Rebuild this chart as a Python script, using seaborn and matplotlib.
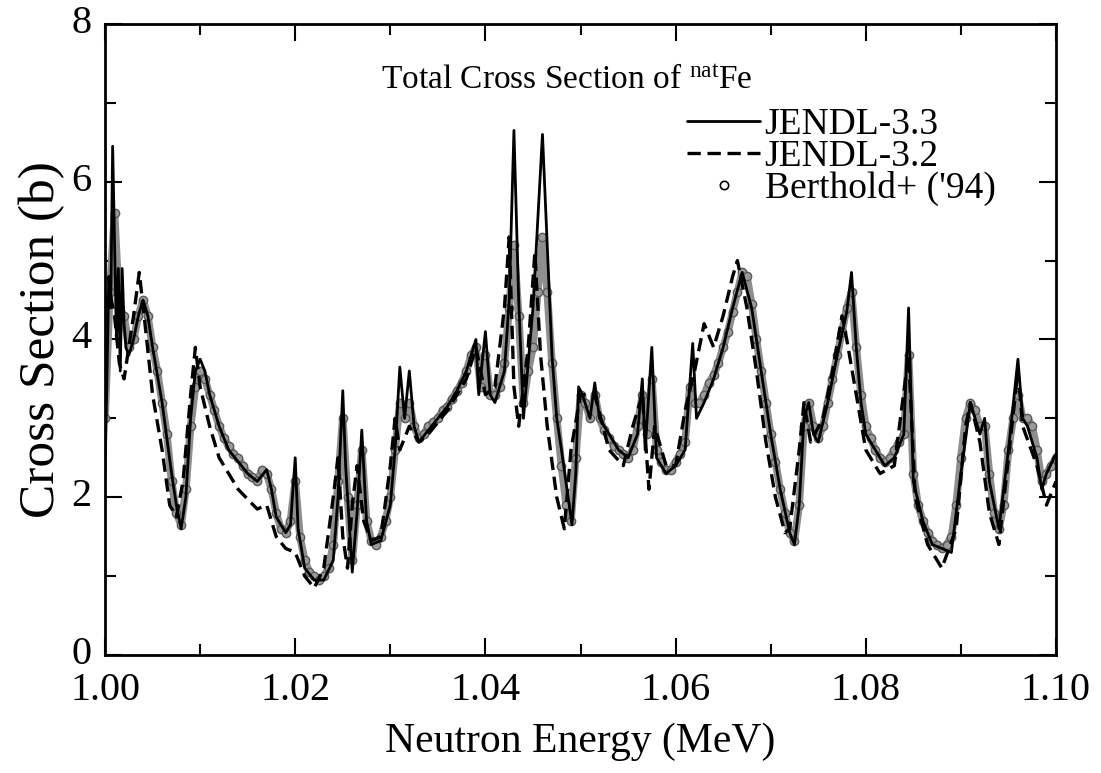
import numpy as np
import pandas as pd
import matplotlib
matplotlib.use("Agg")
import matplotlib.pyplot as plt
from matplotlib.lines import Line2D
from matplotlib.ticker import MultipleLocator
from matplotlib.transforms import ScaledTranslation
import seaborn as sns

# ---- JENDL-3.3 evaluated total cross section (MeV, barn) ----
jendl33_e = [1.0000, 1.0002, 1.0004, 1.0006, 1.0008, 1.0010, 1.0012, 1.0014, 1.0016, 1.0018,
             1.0020, 1.0022, 1.0025, 1.0030, 1.0035, 1.0040, 1.0045, 1.0050, 1.0060, 1.0070,
             1.0075, 1.0080, 1.0085, 1.0090, 1.0095, 1.0100, 1.0105, 1.0110, 1.0120, 1.0130,
             1.0140, 1.0150, 1.0160, 1.0170, 1.0175, 1.0180, 1.0190, 1.0195, 1.0200, 1.0203,
             1.0210, 1.0220, 1.0230, 1.0240, 1.0245, 1.0250, 1.0253, 1.0260, 1.0265, 1.0270,
             1.0275, 1.0280, 1.0290, 1.0300, 1.0305, 1.0310, 1.0315, 1.0320, 1.0325, 1.0330,
             1.0340, 1.0350, 1.0360, 1.0370, 1.0380, 1.0390, 1.0393, 1.0400, 1.0405, 1.0410,
             1.0420, 1.0425, 1.0430, 1.0435, 1.0440, 1.0450, 1.0460, 1.0465, 1.0470, 1.0475,
             1.0480, 1.0487, 1.0491, 1.0495, 1.0498, 1.0502, 1.0510, 1.0515, 1.0520, 1.0530,
             1.0540, 1.0550, 1.0560, 1.0565, 1.0568, 1.0575, 1.0580, 1.0590, 1.0600, 1.0610,
             1.0618, 1.0622, 1.0630, 1.0640, 1.0650, 1.0660, 1.0670, 1.0680, 1.0690, 1.0700,
             1.0710, 1.0720, 1.0725, 1.0730, 1.0735, 1.0740, 1.0745, 1.0750, 1.0760, 1.0770,
             1.0780, 1.0785, 1.0790, 1.0795, 1.0800, 1.0810, 1.0820, 1.0830, 1.0840, 1.0845,
             1.0850, 1.0860, 1.0870, 1.0880, 1.0890, 1.0900, 1.0910, 1.0920, 1.0925, 1.0930,
             1.0940, 1.0950, 1.0960, 1.0965, 1.0970, 1.0980, 1.0985, 1.0990, 1.1000]
jendl33_sig = [2.3, 3.5, 4.8, 4.4, 6.45, 5.2, 4.0, 4.9, 3.6, 4.9,
               4.2, 3.9, 3.8, 4.0, 4.3, 4.5, 4.3, 3.9, 3.2, 2.3,
               1.9, 1.6, 2.0, 3.0, 3.6, 3.75, 3.6, 3.3, 2.9, 2.6,
               2.45, 2.3, 2.2, 2.35, 2.1, 1.75, 1.55, 1.65, 2.5, 1.6,
               1.1, 0.95, 0.95, 1.2, 2.0, 3.35, 2.4, 1.05, 1.8, 2.85,
               1.7, 1.4, 1.45, 1.9, 2.6, 3.65, 3.0, 3.6, 2.9, 2.7,
               2.85, 3.0, 3.15, 3.35, 3.6, 4.0, 3.3, 4.1, 3.3, 3.2,
               3.6, 4.5, 6.65, 4.5, 3.0, 4.4, 6.6, 5.2, 3.8, 3.0,
               2.6, 2.0, 1.65, 2.3, 3.4, 3.3, 3.0, 3.45, 3.0, 2.8,
               2.6, 2.5, 2.8, 3.5, 2.6, 3.9, 2.5, 2.3, 2.4, 2.6,
               3.95, 3.0, 3.2, 3.5, 3.9, 4.4, 4.85, 4.4, 3.6, 2.8,
               2.1, 1.55, 1.4, 1.9, 3.0, 3.2, 2.8, 2.7, 3.2, 3.8,
               4.35, 4.85, 3.9, 3.2, 2.8, 2.6, 2.4, 2.5, 2.8, 4.4,
               2.2, 1.7, 1.4, 1.35, 1.3, 2.3, 3.2, 2.8, 3.0, 2.2,
               1.6, 2.6, 3.75, 3.0, 2.9, 2.5, 2.1, 2.3, 2.55]

# ---- JENDL-3.2 evaluated total cross section ----
jendl32_e = [1.0000, 1.0005, 1.0010, 1.0015, 1.0020, 1.0030, 1.0036, 1.0042, 1.0050, 1.0060,
             1.0068, 1.0075, 1.0082, 1.0090, 1.0095, 1.0100, 1.0110, 1.0120, 1.0140, 1.0160,
             1.0170, 1.0180, 1.0190, 1.0200, 1.0210, 1.0220, 1.0230, 1.0240, 1.0245, 1.0250,
             1.0255, 1.0260, 1.0265, 1.0272, 1.0280, 1.0290, 1.0300, 1.0305, 1.0310, 1.0320,
             1.0330, 1.0340, 1.0360, 1.0380, 1.0390, 1.0400, 1.0410, 1.0420, 1.0425, 1.0430,
             1.0435, 1.0445, 1.0452, 1.0458, 1.0465, 1.0475, 1.0483, 1.0490, 1.0500, 1.0515,
             1.0530, 1.0545, 1.0555, 1.0565, 1.0572, 1.0578, 1.0590, 1.0600, 1.0610, 1.0620,
             1.0630, 1.0640, 1.0650, 1.0660, 1.0665, 1.0675, 1.0685, 1.0695, 1.0705, 1.0715,
             1.0720, 1.0730, 1.0735, 1.0742, 1.0755, 1.0765, 1.0775, 1.0780, 1.0790, 1.0800,
             1.0815, 1.0830, 1.0845, 1.0852, 1.0865, 1.0880, 1.0895, 1.0905, 1.0910, 1.0920,
             1.0930, 1.0940, 1.0950, 1.0960, 1.0965, 1.0980, 1.0990, 1.1000]
jendl32_sig = [4.4, 4.6, 4.3, 3.7, 3.5, 4.3, 4.85, 4.2, 3.3, 2.6,
               1.9, 1.75, 2.2, 3.3, 3.9, 3.4, 2.9, 2.5, 2.1, 1.85,
               1.9, 1.5, 1.35, 1.3, 1.0, 0.85, 1.1, 2.0, 2.5, 1.5,
               1.1, 1.9, 2.4, 1.7, 1.45, 1.5, 2.4, 3.0, 2.6, 2.9,
               2.7, 2.8, 3.1, 3.5, 3.9, 3.3, 3.4, 4.4, 5.3, 3.4,
               2.9, 3.9, 5.1, 3.8, 2.9, 2.0, 1.6, 2.6, 3.3, 3.3,
               2.6, 2.4, 2.9, 3.3, 2.1, 2.9, 2.4, 2.4, 3.1, 3.6,
               4.2, 3.9, 4.3, 4.8, 5.0, 4.4, 3.6, 2.7, 2.0, 1.55,
               1.6, 2.6, 3.2, 2.7, 3.0, 3.6, 4.3, 4.0, 3.3, 2.6,
               2.3, 2.4, 3.8, 2.0, 1.4, 1.1, 1.6, 2.9, 3.2, 2.7,
               1.8, 1.4, 2.5, 3.6, 2.9, 2.4, 1.9, 2.2]

# ---- Berthold et al. ('94) measurement, 0.5 keV spacing from 1.000 MeV ----
berthold_e0 = 1.0000
berthold_step = 0.0005
berthold_sig = [3.0, 4.6, 5.6, 4.4, 4.3, 3.9, 4.0, 4.3, 4.5, 4.3,
                3.9, 3.6, 3.2, 2.8, 2.2, 1.8, 1.65, 2.1, 2.9, 3.4,
                3.6, 3.5, 3.3, 3.1, 2.9, 2.75, 2.65, 2.55, 2.5, 2.4,
                2.3, 2.25, 2.2, 2.35, 2.3, 2.1, 1.8, 1.6, 1.55, 1.7,
                2.2, 1.5, 1.2, 1.05, 1.0, 0.95, 1.0, 1.1, 1.4, 2.2,
                3.0, 2.0, 1.2, 1.9, 2.6, 1.7, 1.45, 1.4, 1.5, 1.7,
                2.0, 2.6, 3.2, 3.0, 3.2, 2.9, 2.75, 2.8, 2.9, 2.95,
                3.0, 3.1, 3.15, 3.25, 3.35, 3.45, 3.6, 3.8, 3.9, 3.4,
                3.8, 3.3, 3.3, 3.4, 3.7, 4.4, 5.2, 4.3, 3.2, 3.6,
                3.9, 4.6, 5.3, 4.6, 3.7, 3.0, 2.4, 1.9, 1.7, 2.5,
                3.3, 3.2, 3.0, 3.3, 3.0, 2.85, 2.75, 2.65, 2.6, 2.55,
                2.5, 2.6, 2.9, 3.3, 2.8, 3.5, 2.6, 2.45, 2.35, 2.35,
                2.45, 2.55, 2.7, 3.4, 3.2, 3.2, 3.3, 3.45, 3.55, 3.7,
                3.9, 4.1, 4.35, 4.6, 4.85, 4.8, 4.45, 4.0, 3.6, 3.2,
                2.8, 2.45, 2.1, 1.8, 1.55, 1.45, 1.9, 2.9, 3.2, 2.9,
                2.75, 2.9, 3.2, 3.5, 3.8, 4.1, 4.4, 4.6, 3.9, 3.3,
                2.9, 2.75, 2.6, 2.5, 2.45, 2.5, 2.6, 2.7, 2.8, 3.8,
                2.3, 1.9, 1.7, 1.55, 1.45, 1.4, 1.35, 1.4, 1.5, 1.9,
                2.5, 3.0, 3.2, 3.1, 2.9, 2.9, 2.3, 1.8, 1.6, 1.9,
                2.6, 3.0, 3.3, 3.0, 3.0, 2.9, 2.6, 2.2, 2.3, 2.4,
                2.5]

x_ticks = [1.00, 1.02, 1.04, 1.06, 1.08, 1.10]
x_ticklabels = ["1.00", "1.02", "1.04", "1.06", "1.08", "1.10"]
y_ticks = [0, 2, 4, 6, 8]

sns.set_style("ticks")
plt.rcParams["font.family"] = ["Liberation Serif", "DejaVu Serif"]
plt.rcParams["mathtext.fontset"] = "custom"
plt.rcParams["mathtext.rm"] = "Liberation Serif"
plt.rcParams["mathtext.it"] = "Liberation Serif:italic"
for key in ("text.color", "axes.labelcolor", "xtick.color", "ytick.color", "axes.edgecolor"):
    plt.rcParams[key] = "black"

df33 = pd.DataFrame({"E": jendl33_e, "sig": jendl33_sig})
df32 = pd.DataFrame({"E": jendl32_e, "sig": jendl32_sig})
dfb = pd.DataFrame({"E": berthold_e0 + berthold_step * np.arange(len(berthold_sig)),
                    "sig": berthold_sig})

fig = plt.figure(figsize=(11.01, 7.73), dpi=100)
ax = fig.add_axes([0.0954, 0.1527, 0.8637, 0.8163])

# dense measured points merge into a grey band
sns.lineplot(data=dfb, x="E", y="sig", ax=ax, color="#8e8e8e", lw=5.5,
             sort=False, estimator=None, zorder=2, legend=False,
             solid_capstyle="round", solid_joinstyle="round")
sns.scatterplot(data=dfb, x="E", y="sig", ax=ax, marker="o", s=36,
                facecolor="#9a9a9a", edgecolor="#5a5a5a", linewidth=1.0,
                zorder=2.5, legend=False)
sns.lineplot(data=df32, x="E", y="sig", ax=ax, color="black", lw=2.4,
             sort=False, estimator=None, zorder=3, legend=False)
ax.lines[-1].set_dashes((4, 2))
sns.lineplot(data=df33, x="E", y="sig", ax=ax, color="black", lw=2.0,
             sort=False, estimator=None, zorder=4, legend=False)

ax.set_xlim(1.00, 1.10)
ax.set_ylim(0, 8)
ax.set_xticks(x_ticks)
ax.set_xticklabels(x_ticklabels)
ax.set_yticks(y_ticks)
ax.xaxis.set_minor_locator(MultipleLocator(0.01))
ax.yaxis.set_minor_locator(MultipleLocator(1))
ax.tick_params(which="both", direction="in", top=True, right=True,
               labelsize=29, width=1.5)
ax.tick_params(axis="x", which="major", pad=12)
ax.tick_params(axis="y", which="major", pad=10)
ax.tick_params(which="major", length=12)
ax.tick_params(which="minor", length=8)
for sp in ax.spines.values():
    sp.set_linewidth(2)
    sp.set_visible(True)

# y tick numbers sit slightly above their ticks
lift = ScaledTranslation(0, 5 / 100, fig.dpi_scale_trans)
for lbl in ax.get_yticklabels():
    lbl.set_transform(lbl.get_transform() + lift)

ax.set_xlabel("Neutron Energy (MeV)", fontsize=30, labelpad=10)
ax.set_ylabel("Cross Section (b)", fontsize=37, labelpad=4)

ax.text(0.486, 0.91, r"Total Cross Section of $^{\rm nat}$Fe", transform=ax.transAxes,
        ha="center", va="center", fontsize=24)

handles = [Line2D([], [], color="black", lw=2.0),
           Line2D([], [], color="black", lw=2.4, dashes=(4, 2)),
           Line2D([], [], ls="none", marker="o", markersize=6,
                  markerfacecolor="white", markeredgecolor="black", markeredgewidth=1.2)]
ax.legend(handles, ["JENDL-3.3", "JENDL-3.2", "Berthold+ ('94)"],
          loc="upper left", bbox_to_anchor=(0.612, 0.868), frameon=False,
          fontsize=27, handlelength=1.95, handletextpad=0.12, labelspacing=-0.07,
          borderpad=0, borderaxespad=0)

fig.savefig("out.png", dpi=100)
